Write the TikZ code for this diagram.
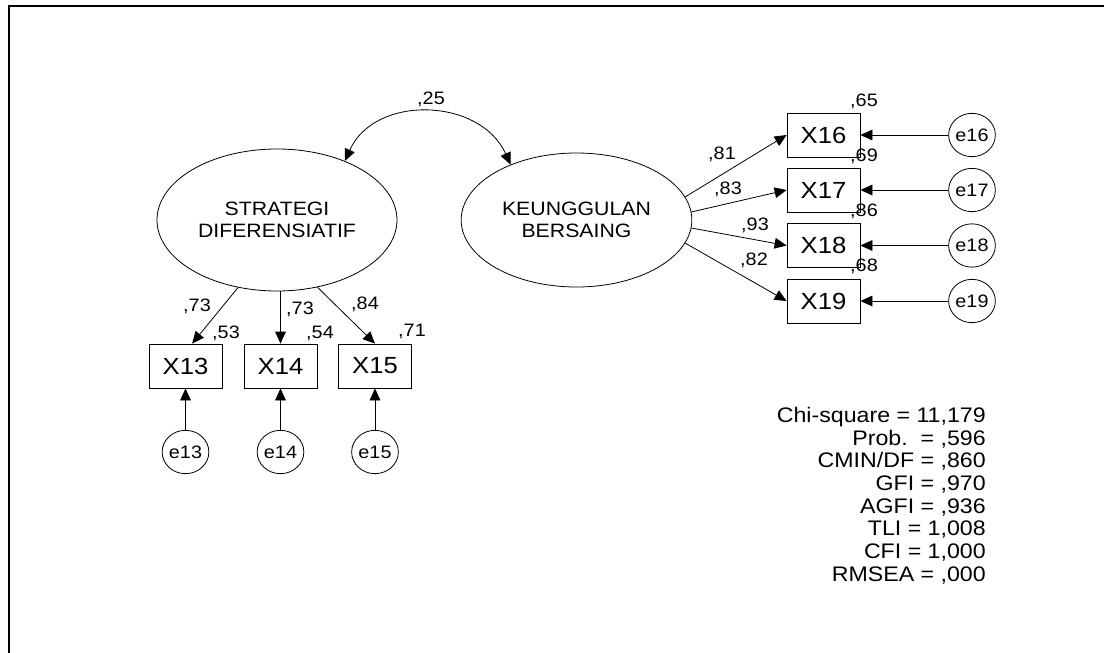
\documentclass[tikz,border=0pt]{standalone}
\usepackage{fontspec}
\setmainfont{Liberation Sans}[FakeStretch=1.1]
\usetikzlibrary{shapes.geometric,arrows.meta}
\begin{document}
\begin{tikzpicture}[x=0.75pt,y=-0.75pt,
  lat/.style={draw,ellipse,line width=0.6pt,inner sep=0pt,align=center,font=\fontsize{14.5}{16}\selectfont},
  obs/.style={draw,rectangle,line width=0.6pt,minimum width=54.75pt,minimum height=33pt,inner sep=0pt,font=\fontsize{17.5}{19}\selectfont},
  err/.style={draw,ellipse,line width=0.6pt,minimum width=34.5pt,minimum height=32.5pt,inner sep=0pt,font=\fontsize{13.5}{15}\selectfont},
  lab/.style={inner sep=0pt,font=\fontsize{13.5}{15}\selectfont},
  arr/.style={-{Triangle[length=9pt,width=8pt]},line width=0.6pt},
  darr/.style={{Triangle[length=9pt,width=8pt]}-{Triangle[length=9pt,width=8pt]},line width=0.6pt},
]
\useasboundingbox (0,0) rectangle (1104,653);
\draw[line width=1.5pt] (9,653) -- (9,6) -- (1104,6);

% latent variables
\node[lat,minimum width=180pt,minimum height=106.5pt] (SD) at (277,220) {STRATEGI\\DIFERENSIATIF};
\node[lat,minimum width=173pt,minimum height=100.5pt] (KB) at (576.5,220) {KEUNGGULAN\\BERSAING};

% observed
\node[obs] (X13) at (185.5,366) {X13};
\node[obs] (X14) at (280.5,366) {X14};
\node[obs] (X15) at (375,366) {X15};
\node[obs] (X16) at (823.5,135) {X16};
\node[obs] (X17) at (823.5,190) {X17};
\node[obs] (X18) at (823.5,245.5) {X18};
\node[obs] (X19) at (823.5,301) {X19};

% errors
\node[err] (e13) at (185.5,452) {e13};
\node[err] (e14) at (280.5,452) {e14};
\node[err] (e15) at (375,452) {e15};
\node[err] (e16) at (972,135) {e16};
\node[err] (e17) at (972,190) {e17};
\node[err] (e18) at (972,245.5) {e18};
\node[err] (e19) at (972,301) {e19};

% covariance
\draw[darr] (SD.41) .. controls +(30,-67) and +(-30,-67) .. (KB.140);

% loadings
\draw[arr] (SD.-120) -- ([xshift=5pt]X13.north);
\draw[arr] (SD.south -| X14.north) -- (X14.north);
\draw[arr] (SD.-59) -- (X15.north);
\draw[arr] (KB.12.5) -- (X16.west);
\draw[arr] (KB.4.5) -- (X17.west);
\draw[arr] (KB.-4.5) -- (X18.west);
\draw[arr] (KB.-12.5) -- (X19.west);

% error arrows
\draw[arr] (e13) -- (X13);
\draw[arr] (e14) -- (X14);
\draw[arr] (e15) -- (X15);
\draw[arr] (e16) -- (X16);
\draw[arr] (e17) -- (X17);
\draw[arr] (e18) -- (X18);
\draw[arr] (e19) -- (X19);

% labels
\node[lab] (l25) at (431,99) {,25};
\node[lab] (l81) at (722,154) {,81};
\node[lab] (l83) at (728,189) {,83};
\node[lab] (l93) at (755,225) {,93};
\node[lab] (l82) at (754,260) {,82};
\node[lab] (r16) at (864,101) {,65};
\node[lab] (r17) at (864,156) {,69};
\node[lab] (r18) at (864,211) {,86};
\node[lab] (r19) at (864,266) {,68};
\node[lab] (l13) at (197,306) {,73};
\node[lab] (r13) at (226,333) {,53};
\node[lab] (l14) at (300,309) {,73};
\node[lab] (r14) at (320,333) {,54};
\node[lab] (l15) at (365,304) {,84};
\node[lab] (r15) at (412,331) {,71};

% fit statistics
\node[inner sep=0pt,anchor=north east,align=right,font=\fontsize{15.8}{17}\selectfont] (stats) at (986,407)
 {Chi-square = 11,179\\Prob.\ \ = ,596\\CMIN/DF = ,860\\GFI = ,970\\AGFI = ,936\\TLI = 1,008\\CFI = 1,000\\RMSEA = ,000};
\end{tikzpicture}
\end{document}
